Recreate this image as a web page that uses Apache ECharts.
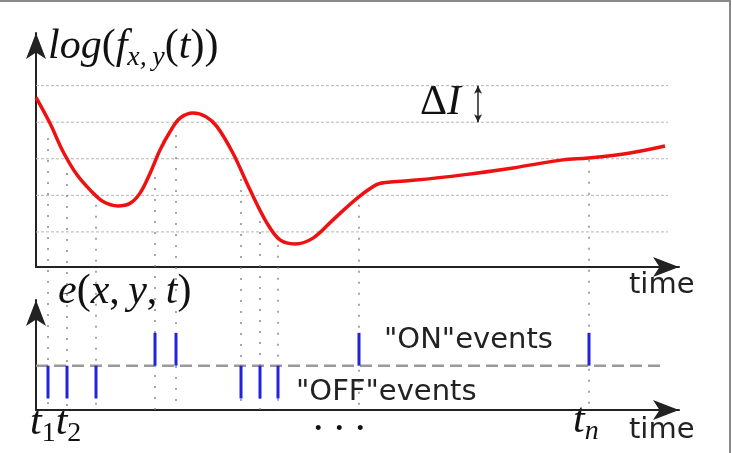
<!DOCTYPE html>
<html>
<head>
<meta charset="utf-8">
<script src="https://cdn.jsdelivr.net/npm/echarts@6/dist/echarts.min.js"></script>
<style>
  html, body { margin: 0; padding: 0; background: #fff; }
  #chart { width: 732px; height: 453px; }
</style>
</head>
<body>
<div id="chart"></div>
<script>
// time runs 0..643 along both panels, log-intensity levels in the top one
const curveT = [0, 14, 27, 41, 54, 67, 82, 94, 104, 114, 124, 134, 144, 157, 170, 181, 197, 214, 231, 244, 259, 277, 297, 321, 341, 352, 377, 427, 477, 527, 552, 594, 629];
const curveLevel = [4.68, 3.97, 3.20, 2.56, 2.15, 1.83, 1.71, 1.78, 2.06, 2.60, 3.24, 3.74, 4.11, 4.25, 4.15, 3.88, 3.15, 2.15, 1.24, 0.78, 0.67, 0.83, 1.33, 1.92, 2.30, 2.36, 2.41, 2.56, 2.75, 2.97, 3.02, 3.16, 3.35];

// threshold levels (ΔI apart)
const gridLevels = [1, 2, 3, 4, 5];
const gridEnd = 632;

// events: time, polarity (+1 ON / -1 OFF), where the dotted guide starts
const eventT = [12, 31, 60, 119, 140, 205, 224, 242, 323, 553];
const eventPolarity = [-1, -1, -1, 1, 1, -1, -1, -1, 1, 1];
const eventTopLevel = [3.57, 2.61, 1.74, 2.5, 3.65, 2.75, 1.6, 0.65, 1.74, 2.97];
const guideBottom = -3.87;   // level that sits on the lower time axis
const baselineEnd = 627;
const deltaT = 442;

const serif = "'Liberation Serif', 'DejaVu Serif', serif";
const sans = "'DejaVu Sans', sans-serif";

const chart = echarts.init(document.getElementById('chart'));

const axisLine = {
  show: true,
  onZero: false,
  symbol: ['none', 'arrow'],
  symbolSize: [15, 26],
  lineStyle: { color: '#222', width: 2 }
};
const bare = {
  axisLine: axisLine,
  axisTick: { show: false },
  axisLabel: { show: false },
  splitLine: { show: false }
};

const mathRich = {
  i: { fontFamily: serif, fontStyle: 'italic', fontSize: 42, lineHeight: 50, fill: '#111' },
  r: { fontFamily: serif, fontSize: 42, lineHeight: 50, fill: '#111' },
  s: { fontFamily: serif, fontStyle: 'italic', fontSize: 28, lineHeight: 28, verticalAlign: 'bottom', fill: '#111' },
  n: { fontFamily: serif, fontSize: 28, lineHeight: 28, verticalAlign: 'bottom', fill: '#111' }
};

function mathText(text, x, y) {
  return {
    type: 'text',
    silent: true,
    style: { text: text, x: x, y: y, rich: mathRich, verticalAlign: 'middle', align: 'left' }
  };
}
function plainText(text, x, y) {
  return {
    type: 'text',
    silent: true,
    style: { text: text, x: x, y: y, font: '29px ' + sans, fill: '#222', verticalAlign: 'middle', align: 'left' }
  };
}

chart.setOption({
  animation: false,
  grid: [
    { left: 36, top: 33, width: 643, height: 234 },
    { left: 36, top: 300, width: 643, height: 110 }
  ],
  xAxis: [
    Object.assign({ type: 'value', gridIndex: 0, min: 0, max: 643 }, bare),
    Object.assign({ type: 'value', gridIndex: 1, min: 0, max: 643 }, bare)
  ],
  yAxis: [
    Object.assign({ type: 'value', gridIndex: 0, min: 0.04, max: 6.44 }, bare),
    Object.assign({ type: 'value', gridIndex: 1, min: -1.35, max: 2.0 }, bare)
  ],
  series: [
    {
      // dotted threshold lines
      type: 'custom',
      xAxisIndex: 0, yAxisIndex: 0,
      data: gridLevels.map(v => [0, v]),
      renderItem: (params, api) => {
        const a = api.coord([0, api.value(1)]);
        const b = api.coord([gridEnd, api.value(1)]);
        return {
          type: 'line',
          shape: { x1: a[0], y1: a[1], x2: b[0], y2: b[1] },
          style: { stroke: '#b5b5b5', lineWidth: 1, lineDash: [3, 2] }
        };
      },
      z: 1
    },
    {
      // dotted guides from the curve down to the event axis
      type: 'custom',
      xAxisIndex: 0, yAxisIndex: 0,
      clip: false,
      data: eventT.map((t, i) => [t, eventTopLevel[i]]),
      renderItem: (params, api) => {
        const a = api.coord([api.value(0), api.value(1)]);
        const b = api.coord([api.value(0), guideBottom]);
        return {
          type: 'line',
          shape: { x1: a[0], y1: a[1], x2: b[0], y2: b[1] },
          style: { stroke: '#777', lineWidth: 1.3, lineDash: [2, 9] }
        };
      },
      z: 1
    },
    {
      type: 'line',
      xAxisIndex: 0, yAxisIndex: 0,
      data: curveT.map((t, i) => [t, curveLevel[i]]),
      smooth: 0.35,
      showSymbol: false,
      lineStyle: { color: '#ee1111', width: 3.5 },
      z: 5,
      markLine: {
        silent: true,
        symbol: ['arrow', 'arrow'],
        symbolSize: [6, 8],
        label: { show: false },
        lineStyle: { color: '#222', width: 1.5, type: 'solid' },
        data: [[{ coord: [deltaT, gridLevels[3]] }, { coord: [deltaT, gridLevels[4]] }]]
      }
    },
    {
      // event baseline
      type: 'line',
      xAxisIndex: 1, yAxisIndex: 1,
      data: [[0, 0], [baselineEnd, 0]],
      showSymbol: false,
      lineStyle: { color: '#999', width: 2.5, type: [12, 6] },
      z: 2
    },
    {
      type: 'bar',
      xAxisIndex: 1, yAxisIndex: 1,
      data: eventT.map((t, i) => [t, eventPolarity[i]]),
      barWidth: 3,
      itemStyle: { color: '#2222dd' },
      z: 3
    }
  ],
  graphic: [
    {
      type: 'rect',
      silent: true,
      shape: { x: -5, y: 1, width: 735, height: 470 },
      style: { fill: 'none', stroke: '#8a8a8a', lineWidth: 2 }
    },
    mathText('{i|log}{r|(}{i|f}{s|x,\u2009y}{r|(}{i|t}{r|))}', 48, 47),
    mathText('{i|e}{r|(}{i|x}{r|,\u2009}{i|y}{r|,\u2009}{i|t}{r|)}', 58, 292),
    mathText('{r|Δ}{i|I}', 420, 103),
    mathText('{i|t}{n|1}{i|t}{n|2}', 30, 423),
    mathText('{i|t}{s|n}', 573, 421),
    mathText('{r|. . .}', 313, 419),
    plainText('time', 629, 285),
    plainText('time', 629, 430),
    plainText('"ON"events', 384, 340),
    plainText('"OFF"events', 296, 392)
  ]
});
</script>
</body>
</html>
